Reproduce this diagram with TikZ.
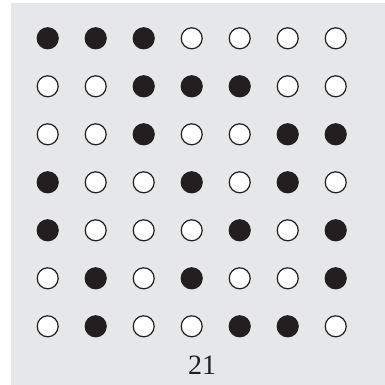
\documentclass[tikz,border=0pt]{standalone}
\usepackage{fontspec}
\setmainfont{Liberation Serif}
\definecolor{panel}{HTML}{E6E7E9}
\definecolor{ink}{HTML}{231F20}
\begin{document}
\begin{tikzpicture}[x=1pt,y=-1pt,
 dot/.style={circle,draw=ink,line width=1.2pt,minimum size=21pt,inner sep=0pt},
 s0/.style={dot,fill=white},
 s1/.style={dot,fill=ink},
 num/.style={font=\fontsize{28}{30}\selectfont,text=ink}]
\useasboundingbox (0,0) rectangle (385,385);
\fill[panel] (11,3) rectangle (385,385);
% 7x7 pattern, 1 = filled
\foreach \row [count=\r from 0] in {{1,1,1,0,0,0,0},{0,0,1,1,1,0,0},{0,0,1,0,0,1,1},{1,0,0,1,0,1,0},{1,0,0,0,1,0,1},{0,1,0,1,0,0,1},{0,1,0,0,1,1,0}}
 \foreach \v [count=\c from 0] in \row
  \node[s\v] (d\r\c) at (47.7+48*\c,38.3+48*\r) {};
\node[num] (lbl) at (202,365) {21};
\end{tikzpicture}
\end{document}
